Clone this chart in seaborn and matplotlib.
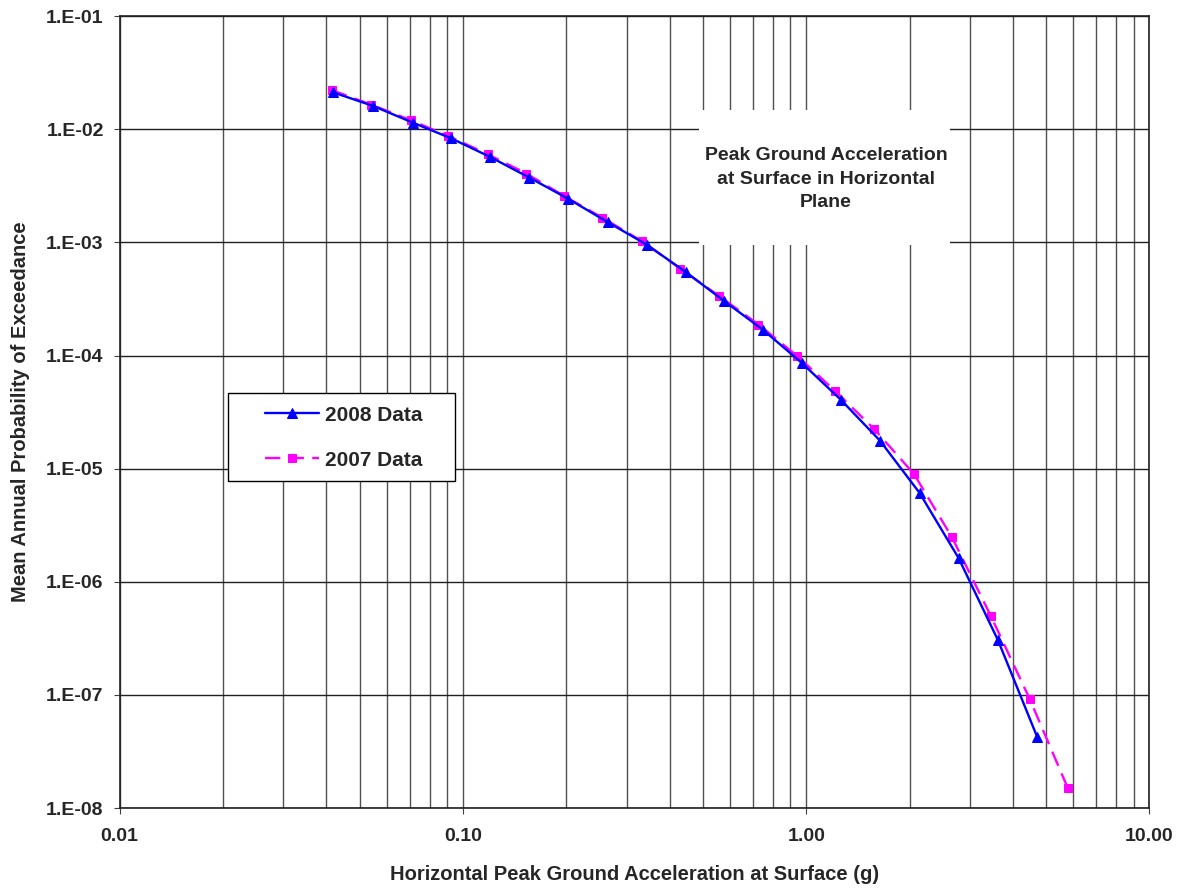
import numpy as np
import pandas as pd
import matplotlib
matplotlib.use("Agg")
import matplotlib.pyplot as plt
from matplotlib.patches import Rectangle
from matplotlib.ticker import FixedLocator, LogLocator, NullFormatter
import seaborn as sns

# hazard curves
pga_2008 = [0.0418, 0.0546, 0.0713, 0.0926, 0.120, 0.156, 0.202, 0.264, 0.343, 0.446,
            0.577, 0.748, 0.971, 1.26, 1.64, 2.14, 2.78, 3.62, 4.71]
mape_2008 = [0.0212, 0.0161, 0.01146, 0.00828, 0.00569, 0.00374, 0.00244, 0.00151, 0.000955, 0.000546,
             0.000303, 0.000169, 8.6e-5, 4.08e-5, 1.77e-5, 6.1e-6, 1.62e-6, 3.05e-7, 4.25e-8]

pga_2007 = [0.0416, 0.054, 0.0705, 0.0906, 0.118, 0.153, 0.197, 0.255, 0.333, 0.430,
            0.558, 0.726, 0.943, 1.217, 1.58, 2.06, 2.66, 3.45, 4.48, 5.78]
mape_2007 = [0.0221, 0.0165, 0.0120, 0.00873, 0.00601, 0.00406, 0.00257, 0.00165, 0.00102, 0.000585,
             0.000335, 0.000188, 9.86e-5, 4.83e-5, 2.23e-5, 8.98e-6, 2.47e-6, 5.0e-7, 9.2e-8, 1.51e-8]

series_names = ["2008 Data", "2007 Data"]
x_ticks = [0.01, 0.1, 1.0, 10.0]
x_tick_labels = ["0.01", "0.10", "1.00", "10.00"]
y_ticks = [1e-8, 1e-7, 1e-6, 1e-5, 1e-4, 1e-3, 1e-2, 1e-1]
y_tick_labels = ["1.E-08", "1.E-07", "1.E-06", "1.E-05", "1.E-04", "1.E-03", "1.E-02", "1.E-01"]

df = pd.concat([
    pd.DataFrame({"pga": pga_2008, "mape": mape_2008, "series": series_names[0]}),
    pd.DataFrame({"pga": pga_2007, "mape": mape_2007, "series": series_names[1]}),
])

sns.set_style("white")
plt.rcParams["font.family"] = ["Liberation Sans", "DejaVu Sans"]
plt.rcParams["font.weight"] = "bold"

fig, ax = plt.subplots(figsize=(11.85, 8.92), dpi=100)
fig.subplots_adjust(left=0.101, right=0.970, top=0.982, bottom=0.094)

ax.set_xscale("log")
ax.set_yscale("log")
ax.set_xlim(0.01, 10)
ax.set_ylim(1e-8, 1e-1)

sns.lineplot(data=df[df.series == series_names[1]], x="pga", y="mape", ax=ax,
             color="#FF00FF", lw=1.7, marker="s", markersize=6,
             markeredgecolor="#FF00FF", label=series_names[1], zorder=3)
ax.lines[-1].set_dashes([6.5, 3.5])
sns.lineplot(data=df[df.series == series_names[0]], x="pga", y="mape", ax=ax,
             color="#0000FF", lw=1.7, marker="^", markersize=6.5,
             markeredgecolor="#0000FF", label=series_names[0], zorder=4)

ax.xaxis.set_major_locator(FixedLocator(x_ticks))
ax.set_xticklabels(x_tick_labels)
ax.xaxis.set_minor_locator(LogLocator(base=10, subs=np.arange(2, 10)))
ax.xaxis.set_minor_formatter(NullFormatter())
ax.yaxis.set_major_locator(FixedLocator(y_ticks))
ax.set_yticklabels(y_tick_labels)
ax.yaxis.set_minor_locator(FixedLocator([]))

ax.grid(True, which="both", axis="x", color="#505050", lw=1)
ax.grid(True, which="major", axis="y", color="#202020", lw=1)
ax.set_axisbelow(True)
for s in ax.spines.values():
    s.set_color("#202020")
    s.set_linewidth(1.2)

ax.tick_params(axis="both", which="major", labelsize=14, length=4.5, direction="out", color="#404040",
               bottom=True, left=True)
ax.tick_params(axis="x", which="major", pad=10)
ax.tick_params(axis="y", which="major", pad=7)
ax.tick_params(axis="both", which="minor", length=0)
for lab in ax.get_xticklabels() + ax.get_yticklabels():
    lab.set_fontweight("bold")

ax.set_xlabel("Horizontal Peak Ground Acceleration at Surface (g)", fontsize=14.5, fontweight="bold", labelpad=14)
ax.set_ylabel("Mean Annual Probability of Exceedance", fontsize=14.5, fontweight="bold", labelpad=12)

# white box behind annotation
ax.add_patch(Rectangle((0.563, 0.711), 0.243, 0.170, transform=ax.transAxes,
                       facecolor="white", edgecolor="none", zorder=2))
ax.text(0.686, 0.794, "Peak Ground Acceleration\nat Surface in Horizontal\nPlane",
        transform=ax.transAxes, ha="center", va="center", fontsize=14, fontweight="bold",
        linespacing=1.5, zorder=5)

# legend frame drawn separately so the padding matches
ax.add_patch(Rectangle((0.1049, 0.4129), 0.2204, 0.1111, transform=ax.transAxes,
                       facecolor="white", edgecolor="black", lw=1, zorder=6))
handles, labels = ax.get_legend_handles_labels()
order = [labels.index(n) for n in series_names]
leg = ax.legend([handles[i] for i in order], [labels[i] for i in order],
                loc="center left", bbox_to_anchor=(0.1408, 0.4678),
                prop={"weight": "bold", "size": 15}, frameon=False,
                borderpad=0, labelspacing=1.25, handlelength=2.6, handletextpad=0.3,
                borderaxespad=0)
leg.set_zorder(7)

fig.savefig("out.png", dpi=100)
plt.close(fig)
